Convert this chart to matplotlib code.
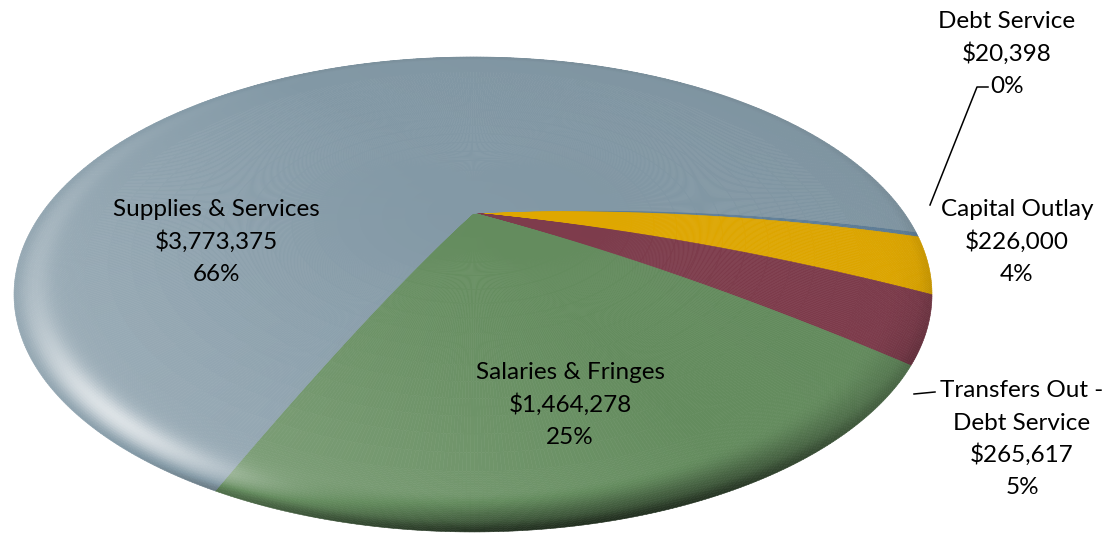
import numpy as np
import matplotlib
matplotlib.use("Agg")
import matplotlib.pyplot as plt
from matplotlib.collections import PolyCollection

# budget by category, in clockwise order starting just above "3 o'clock"
categories = ["Debt Service", "Capital Outlay", "Transfers Out -\nDebt Service",
              "Salaries & Fringes", "Supplies & Services"]
amounts = [20398, 226000, 265617, 1464278, 3773375]
colors = ["#5f7f99", "#e0a800", "#7e3c4c", "#648c5e", "#8399a6"]

# label anchors (centre x, first baseline y) in pixels
label_pos = [(1007, 28), (1017, 216), (1022, 397), (570, 379), (216, 216)]
line_pitch = 32.5

W, H = 1108, 535

# perspective view of a slightly domed disc
XC, YC = 473.0, 251.7
A, S, K = 451.5, 229.8, 0.18
DOME = 38.7
START = 5.0  # degrees, where the first slice begins


def project(r, t):
    sn, cs = np.sin(t), np.cos(t)
    den = 1 + K * r * sn
    x = XC + A * r * cs / den
    y = YC - S * r * sn / den - DOME * (1 - r ** 2)
    return x, y


def gauss_ang(t, centre, width):
    d = (np.degrees(t) - centre + 180) % 360 - 180
    return np.exp(-(d / width) ** 2)


def smooth(u):
    u = np.clip(u, 0, 1)
    return u * u * (3 - 2 * u)


def shade(r, t):
    light = 0.55 * gauss_ang(t, -135, 22) + 0.12 * gauss_ang(t, -175, 35)
    dark = 0.55 * gauss_ang(t, -82, 45)
    hl = np.exp(-((r - 0.955) / 0.032) ** 2)
    rim = smooth((r - 0.9) / 0.1)
    edge = smooth((r - 0.97) / 0.03) * (0.04 + 0.15 * gauss_ang(t, -90, 60))
    broad = 0.22 * r ** 1.5 * np.maximum(0, np.cos(t - np.radians(-150))) \
        - 0.03 * r * np.maximum(0, np.cos(t - np.radians(40)))
    return light * hl - dark * rim - edge + broad


def apply(c, f):
    c = np.asarray(matplotlib.colors.to_rgb(c))
    if f >= 0:
        return c + (1 - c) * f
    return c * (1 + f)


total = sum(amounts)
fracs = [a / total for a in amounts]

fig = plt.figure(figsize=(W / 100, H / 100), dpi=100)
ax = fig.add_axes([0, 0, 1, 1])
ax.set_xlim(0, W)
ax.set_ylim(H, 0)
ax.axis("off")

radii = np.concatenate([np.linspace(0, 0.85, 18), np.linspace(0.85, 1, 34)[1:]])

polys, fcols = [], []
a0 = np.radians(START)
for frac, col in zip(fracs, colors):
    span = 2 * np.pi * frac
    n = max(2, int(np.ceil(np.degrees(span) / 0.5)))
    ts = a0 - np.linspace(0, span, n + 1)
    for i in range(n):
        for j in range(len(radii) - 1):
            r0, r1 = radii[j], radii[j + 1]
            t0, t1 = ts[i], ts[i + 1]
            corners = [project(r0, t0), project(r1, t0), project(r1, t1), project(r0, t1)]
            polys.append(corners)
            f = shade(0.5 * (r0 + r1), 0.5 * (t0 + t1))
            fcols.append(apply(col, float(np.clip(f, -0.9, 0.9))))
    a0 -= span

pc = PolyCollection(polys, facecolors=fcols, edgecolors=fcols, linewidths=0.4)
ax.add_collection(pc)

# data labels
font = dict(family="Lato", fontsize=17.5, color="black", ha="center", va="baseline")
for name, amt, frac, (lx, ly) in zip(categories, amounts, fracs, label_pos):
    lines = name.split("\n") + [f"${amt:,}", f"{frac:.0%}"]
    for k, line in enumerate(lines):
        ax.text(lx, ly + k * line_pitch, line, **font)

# leader lines for the thin slices
ax.plot([988, 977, 930], [87, 87, 205], color="black", lw=1.1)
ax.plot([935, 914], [392, 394], color="black", lw=1.1)

fig.savefig("out.png", dpi=100, facecolor="white")
